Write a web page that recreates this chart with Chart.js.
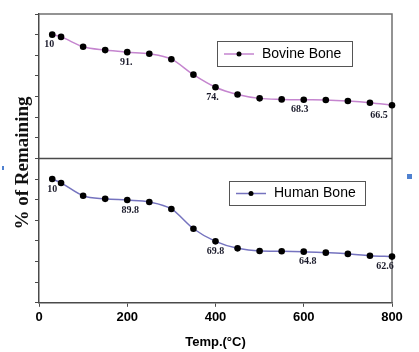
<!DOCTYPE html>
<html>
<head>
<meta charset="utf-8">
<script src="https://cdn.jsdelivr.net/npm/chart.js@4.4.0/dist/chart.umd.min.js"></script>
<style>
  html, body { margin: 0; padding: 0; background: #fff; }
</style>
</head>
<body>
<canvas id="graficoTGA" width="419" height="352"></canvas>
<script>
// temperatura (°C) e % remanescente
const temperaturas = [30, 50, 100, 150, 200, 250, 300, 350, 400, 450, 500, 550, 600, 650, 700, 750, 800];
const ossoBovino = [100, 98.9, 94.1, 92.5, 91.5, 90.7, 88.1, 80.6, 74.5, 71.0, 69.1, 68.6, 68.4, 68.3, 67.8, 67.0, 65.8];
const ossoHumano = [100, 98.1, 91.9, 90.4, 89.8, 88.9, 85.5, 75.9, 69.8, 66.4, 65.1, 65.0, 64.8, 64.3, 63.7, 62.8, 62.4];

const indicesRotulos = [0, 4, 8, 12, 16];
const rotulosBovino = ['10', '91.', '74.', '68.3', '66.5'];
const rotulosHumano = ['10', '89.8', '69.8', '64.8', '62.6'];

const ticksX = [0, 200, 400, 600, 800];
const nomes = ['Bovine Bone', 'Human Bone'];

const corBovino = '#c585cf';
const corHumano = '#7573bf';
const corEixo = '#4a4a4a';

function pontos(valores) {
  return temperaturas.map((t, i) => ({ x: t, y: valores[i] }));
}

// moldura, divisória entre os painéis e título do eixo y
const moldura = {
  id: 'moldura',
  beforeDatasetsDraw(chart) {
    const { ctx, chartArea } = chart;
    const yB = chart.scales.yB;
    ctx.save();
    ctx.strokeStyle = '#707070';
    ctx.lineWidth = 1.5;
    ctx.beginPath();
    ctx.moveTo(chartArea.left, chartArea.top);
    ctx.lineTo(chartArea.right, chartArea.top);
    ctx.lineTo(chartArea.right, chartArea.bottom);
    ctx.stroke();
    ctx.strokeStyle = corEixo;
    ctx.beginPath();
    ctx.moveTo(chartArea.left, yB.bottom);
    ctx.lineTo(chartArea.right, yB.bottom);
    ctx.stroke();
    ctx.restore();
  },
  afterDraw(chart) {
    const { ctx } = chart;
    ctx.save();
    ctx.translate(28, 163);
    ctx.rotate(-Math.PI / 2);
    ctx.font = 'bold 19px "Liberation Serif"';
    ctx.fillStyle = '#111';
    ctx.textAlign = 'center';
    ctx.textBaseline = 'alphabetic';
    ctx.fillText('% of Remaining', 0, 0);
    ctx.restore();
    // restos de marcadores azuis
    ctx.save();
    ctx.fillStyle = '#4f81d0';
    ctx.fillRect(2, 166, 2, 4);
    ctx.fillRect(407, 174, 5, 5);
    ctx.restore();
  }
};

// rótulos de valor junto aos pontos
const rotulos = {
  id: 'rotulos',
  afterDatasetsDraw(chart) {
    const { ctx } = chart;
    const conjuntos = [
      { textos: rotulosBovino, dx: [-3, -1, -3, -4, -13] },
      { textos: rotulosHumano, dx: [0, 3, 0, 4, -7] }
    ];
    ctx.save();
    ctx.font = 'bold 10px "Liberation Serif"';
    ctx.fillStyle = '#1b1b2b';
    ctx.textAlign = 'center';
    ctx.textBaseline = 'middle';
    conjuntos.forEach((c, d) => {
      const meta = chart.getDatasetMeta(d);
      indicesRotulos.forEach((idx, k) => {
        const p = meta.data[idx];
        ctx.fillText(c.textos[k], p.x + c.dx[k], p.y + 10);
      });
    });
    ctx.restore();
  }
};

// legendas em caixas dentro de cada painel
const legendas = {
  id: 'legendas',
  afterDatasetsDraw(chart) {
    const { ctx } = chart;
    const caixas = [
      { x: 217, y: 41, w: 135, h: 25 },
      { x: 229, y: 181, w: 136, h: 24 }
    ];
    ctx.save();
    caixas.forEach((b, d) => {
      const ds = chart.data.datasets[d];
      ctx.fillStyle = '#fff';
      ctx.fillRect(b.x, b.y, b.w, b.h);
      ctx.strokeStyle = '#555';
      ctx.lineWidth = 1;
      ctx.strokeRect(b.x + 0.5, b.y + 0.5, b.w, b.h);
      const cy = b.y + b.h / 2 + 0.5;
      ctx.strokeStyle = ds.borderColor;
      ctx.lineWidth = 1.5;
      ctx.beginPath();
      ctx.moveTo(b.x + 7, cy);
      ctx.lineTo(b.x + 37, cy);
      ctx.stroke();
      ctx.fillStyle = '#000';
      ctx.beginPath();
      ctx.arc(b.x + 22, cy, 2.5, 0, Math.PI * 2);
      ctx.fill();
      ctx.font = '14px "Liberation Sans"';
      ctx.textAlign = 'left';
      ctx.textBaseline = 'middle';
      ctx.fillText(ds.label, b.x + 45, cy);
    });
    ctx.restore();
  }
};

const eixoY = {
  type: 'linear',
  position: 'left',
  stack: 'tga',
  stackWeight: 1,
  min: 40,
  max: 110,
  ticks: { display: false, stepSize: 10 },
  grid: { drawOnChartArea: false, tickLength: 4, color: corEixo },
  border: { color: corEixo, width: 1.5 }
};

new Chart(document.getElementById('graficoTGA'), {
  type: 'line',
  data: {
    datasets: [
      {
        label: nomes[0],
        data: pontos(ossoBovino),
        yAxisID: 'yB',
        borderColor: corBovino,
        borderWidth: 1.5,
        pointRadius: 3.3,
        pointBackgroundColor: '#000',
        pointBorderColor: '#000',
        pointBorderWidth: 0,
        cubicInterpolationMode: 'monotone',
        clip: false
      },
      {
        label: nomes[1],
        data: pontos(ossoHumano),
        yAxisID: 'yH',
        borderColor: corHumano,
        borderWidth: 1.5,
        pointRadius: 3.3,
        pointBackgroundColor: '#000',
        pointBorderColor: '#000',
        pointBorderWidth: 0,
        cubicInterpolationMode: 'monotone',
        clip: false
      }
    ]
  },
  options: {
    responsive: false,
    animation: false,
    devicePixelRatio: 1,
    layout: { padding: { left: 35, right: 27, top: 14, bottom: 0 } },
    plugins: { legend: { display: false }, tooltip: { enabled: false } },
    scales: {
      x: {
        type: 'linear',
        min: ticksX[0],
        max: ticksX[ticksX.length - 1],
        afterBuildTicks: (s) => { s.ticks = ticksX.map(v => ({ value: v })); },
        ticks: {
          color: '#000',
          padding: 3,
          font: { family: 'Liberation Sans', weight: 'bold', size: 13 }
        },
        grid: { drawOnChartArea: false, tickLength: 4, color: corEixo },
        border: { color: corEixo, width: 1.5 },
        title: {
          display: true,
          text: 'Temp.(°C)',
          color: '#000',
          padding: { top: 6, bottom: 2 },
          font: { family: 'Liberation Sans', weight: 'bold', size: 13 }
        }
      },
      // o último da pilha fica em cima
      yH: { ...eixoY },
      yB: eixoY
    }
  },
  plugins: [moldura, rotulos, legendas]
});
</script>
</body>
</html>
